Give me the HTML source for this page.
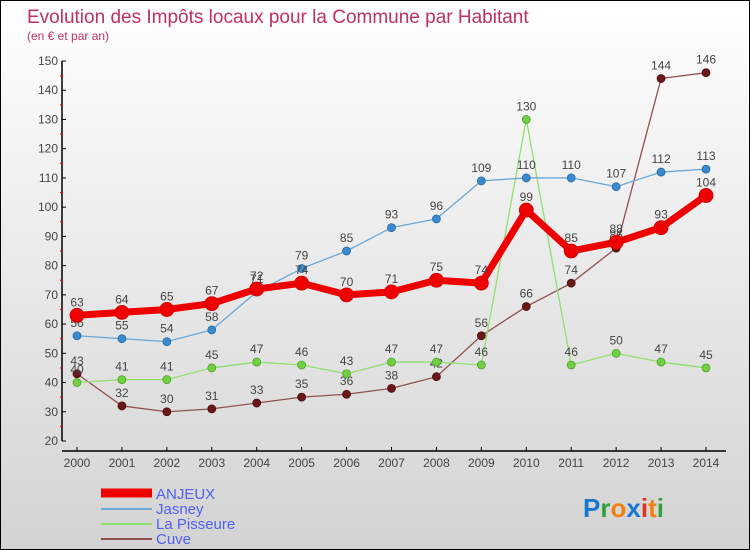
<!DOCTYPE html>
<html><head><meta charset="utf-8"><style>
body{margin:0}
#wrap{position:relative;width:748px;height:548px;border:1px solid #000;background:linear-gradient(#fff,#d3d3d3);font-family:"Liberation Sans",sans-serif;overflow:hidden}
</style></head><body>
<div id="wrap">
<svg id="svg" width="748" height="548" xmlns="http://www.w3.org/2000/svg">
<text x="26" y="22" font-size="19" fill="#c03060">Evolution des Impôts locaux pour la Commune par Habitant</text>
<text x="26" y="39" font-size="12" fill="#c03060">(en € et par an)</text>
<g id="axes"></g><g id="series"></g>
<g>
<line x1="100" y1="492" x2="151" y2="492" stroke="#e00" stroke-width="9"/>
<text x="155" y="498" font-size="15" fill="#5060f0">ANJEUX</text>
<line x1="100" y1="508" x2="151" y2="508" stroke="#6aa8d8" stroke-width="2"/>
<text x="155" y="513" font-size="15" fill="#5060f0">Jasney</text>
<line x1="100" y1="523" x2="151" y2="523" stroke="#90e070" stroke-width="2"/>
<text x="155" y="528" font-size="15" fill="#5060f0">La Pisseure</text>
<line x1="100" y1="538" x2="151" y2="538" stroke="#905050" stroke-width="2"/>
<text x="155" y="543" font-size="15" fill="#5060f0">Cuve</text>
</g>
<text x="582" y="516" font-size="26" font-weight="bold"><tspan fill="#1878d0">P</tspan><tspan fill="#30a040">r</tspan><tspan fill="#f08010">o</tspan><tspan fill="#1878d0">x</tspan><tspan fill="#e03020">i</tspan><tspan fill="#f08010">t</tspan><tspan fill="#30a040">i</tspan></text>
</svg>
</div>
<script>
const years=[2000,2001,2002,2003,2004,2005,2006,2007,2008,2009,2010,2011,2012,2013,2014];
const anjeux=[63,64,65,67,72,74,70,71,75,74,99,85,88,93,104];
const jasney=[56,55,54,58,71,79,85,93,96,109,110,110,107,112,113];
const pisseure=[40,41,41,45,47,46,43,47,47,46,130,46,50,47,45];
const cuve=[43,32,30,31,33,35,36,38,42,56,66,74,86,144,146];
const yTicks=[20,30,40,50,60,70,80,90,100,110,120,130,140,150];
const NS="http://www.w3.org/2000/svg";
const X=i=>76+i*(705-76)/(years.length-1);
const Y=v=>440-(v-20)*(380/130);
function mk(t,a,p){const e=document.createElementNS(NS,t);for(const k in a)e.setAttribute(k,a[k]);p.appendChild(e);return e;}
const ax=document.getElementById('axes');
const yl=mk('line',{x1:61,y1:Y(150),x2:61,y2:Y(20),stroke:'#000','stroke-width':1.5},ax);


const xl=mk('line',{x1:61,y1:450,x2:725,y2:450,stroke:'#000','stroke-width':1.5},ax);


yTicks.forEach(v=>{
 mk('line',{x1:61,y1:Y(v),x2:65,y2:Y(v),stroke:'#000'},ax);
 if(v<150)mk('line',{x1:59,y1:Y(v+5),x2:62,y2:Y(v+5),stroke:'#e00'},ax);
 const t=mk('text',{x:57,y:Y(v)+4,'font-size':12,'text-anchor':'end',fill:'#444'},ax);t.textContent=v;
 
 
});
years.forEach((yr,i)=>{
 mk('line',{x1:X(i),y1:446,x2:X(i),y2:450,stroke:'#000'},ax);
 const t=mk('text',{x:X(i),y:466,'font-size':12,'text-anchor':'middle',fill:'#444'},ax);t.textContent=yr;
 
 
});
const sg=document.getElementById('series');
function series(d,name,color,dot,w,r,lc){
 const g=mk('g',{},sg);
 
 
 mk('polyline',{points:d.map((v,i)=>X(i)+','+Y(v)).join(' '),fill:'none',stroke:color,'stroke-width':w},g);
 d.forEach((v,i)=>{
  const c=mk('circle',{cx:X(i),cy:Y(v),r:r,fill:dot,stroke:lc,'stroke-width':0.8},g);
  
  
  const t=mk('text',{x:X(i),y:Y(v)-9,'font-size':12,'text-anchor':'middle',fill:'#444'},g);t.textContent=v;
 });
}
series(cuve,'series-cuve','#905050','#6a1818',1.3,4,'#4a1010');
series(pisseure,'series-la-pisseure','#90e070','#70d040',1.3,4,'#50a030');
series(jasney,'series-jasney','#6aa8d8','#3a8ad0',1.3,4,'#2a6aa0');
series(anjeux,'series-anjeux','#e00','#e00',7,7,'#c00');
</script>
</body></html>
